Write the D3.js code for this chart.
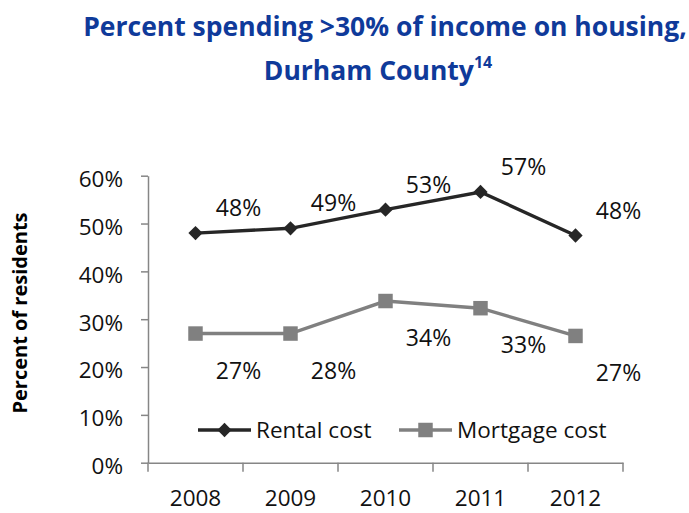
<!DOCTYPE html>
<html>
<head>
<meta charset="utf-8">
<script src="https://cdn.jsdelivr.net/npm/d3@7"></script>
<style>
    html, body { margin: 0; padding: 0; background: #fff; }
    svg { display: block; font-family: "Open Sans", sans-serif; }
</style>
</head>
<body>
<svg id="chart" width="689" height="513"></svg>
<script>
// Data
const years = ['2008', '2009', '2010', '2011', '2012'];
const rentalValues = [48.0, 49.0, 52.9, 56.6, 47.5];
const mortgageValues = [27.0, 27.0, 33.8, 32.3, 26.5];
const rentalLabels = ['48%', '49%', '53%', '57%', '48%'];
const mortgageLabels = ['27%', '28%', '34%', '33%', '27%'];
const yTicks = [0, 10, 20, 30, 40, 50, 60];

const svg = d3.select('#chart');

const x = d3.scaleBand().domain(years).range([148, 623]);
const y = d3.scaleLinear().domain([0, 60]).range([462.7, 175.7]);
const cx = d => x(d) + x.bandwidth() / 2;

const axisColor = '#868686';
const textColor = '#111';

// Title
const title = svg.append('text')
    .attr('text-anchor', 'middle')
    .attr('fill', '#0f3a9a')
    .attr('font-weight', 'bold')
    .attr('font-size', 26.5);
title.append('tspan').attr('x', 385).attr('y', 36)
    .text('Percent spending >30% of income on housing,');
title.append('tspan').attr('x', 378).attr('y', 80).text('Durham County');
title.append('tspan').attr('dy', -12).attr('font-size', 16).text('14');

// Y axis
const yAxis = svg.append('g')
    .attr('transform', `translate(${x.range()[0]},0)`)
    .call(d3.axisLeft(y).tickValues(yTicks).tickSize(7).tickSizeOuter(0)
        .tickPadding(18).tickFormat(d => d + '%'));
yAxis.selectAll('path, line').attr('stroke', axisColor).attr('stroke-width', 1.5);
yAxis.selectAll('text')
    .attr('font-family', '"Open Sans", sans-serif')
    .attr('font-size', 22.5)
    .attr('fill', textColor)
    .attr('dy', '0.48em');

// X axis (ticks sit between categories)
const xAxis = svg.append('g')
    .attr('transform', `translate(0,${y(0)})`)
    .call(d3.axisBottom(x).tickSize(0).tickSizeOuter(0).tickPadding(27));
xAxis.select('path').attr('stroke', axisColor).attr('stroke-width', 1.5);
xAxis.selectAll('text')
    .attr('font-family', '"Open Sans", sans-serif')
    .attr('font-size', 22.5)
    .attr('fill', textColor);
xAxis.selectAll('line.edge')
    .data(years.map(d => x(d)).concat([x.range()[1]]))
    .join('line')
    .attr('class', 'edge')
    .attr('x1', d => d).attr('x2', d => d)
    .attr('y1', 0).attr('y2', 9)
    .attr('stroke', axisColor)
    .attr('stroke-width', 1.5);

// Axis title
svg.append('text')
    .attr('transform', 'translate(27,313) rotate(-90)')
    .attr('text-anchor', 'middle')
    .attr('font-weight', 'bold')
    .attr('font-size', 20)
    .attr('fill', '#000')
    .text('Percent of residents');

const line = d3.line().x((d, i) => cx(years[i])).y(d => y(d));
const diamond = d3.symbol().type(d3.symbolDiamond2).size(130);
const square = d3.symbol().type(d3.symbolSquare).size(210);

const series = [
    { name: 'Rental cost', values: rentalValues, labels: rentalLabels,
      color: '#262626', symbol: diamond, dx: 43, dy: -25 },
    { name: 'Mortgage cost', values: mortgageValues, labels: mortgageLabels,
      color: '#808080', symbol: square, dx: 43, dy: 37 }
];

series.forEach(s => {
    svg.append('path')
        .datum(s.values)
        .attr('d', line)
        .attr('fill', 'none')
        .attr('stroke', s.color)
        .attr('stroke-width', 3.4);

    svg.append('g').selectAll('path')
        .data(s.values)
        .join('path')
        .attr('transform', (d, i) => `translate(${cx(years[i])},${y(d)})`)
        .attr('d', s.symbol)
        .attr('fill', s.color);

    svg.append('g').selectAll('text')
        .data(s.values)
        .join('text')
        .attr('x', (d, i) => cx(years[i]) + s.dx)
        .attr('y', d => y(d) + s.dy)
        .attr('dy', '0.35em')
        .attr('text-anchor', 'middle')
        .attr('font-size', 23)
        .attr('fill', textColor)
        .text((d, i) => s.labels[i]);
});

// Legend
const legendX = [198, 399];
const legendY = 430;
series.forEach((s, i) => {
    const g = svg.append('g').attr('transform', `translate(${legendX[i]},${legendY})`);
    g.append('line')
        .attr('x1', 0).attr('x2', 53)
        .attr('stroke', s.color).attr('stroke-width', 3.4);
    g.append('path')
        .attr('transform', 'translate(26.5,0)')
        .attr('d', s.symbol)
        .attr('fill', s.color);
    g.append('text')
        .attr('x', 58)
        .attr('dy', '0.36em')
        .attr('font-size', 22.5)
        .attr('fill', textColor)
        .text(s.name);
});
</script>
</body>
</html>
